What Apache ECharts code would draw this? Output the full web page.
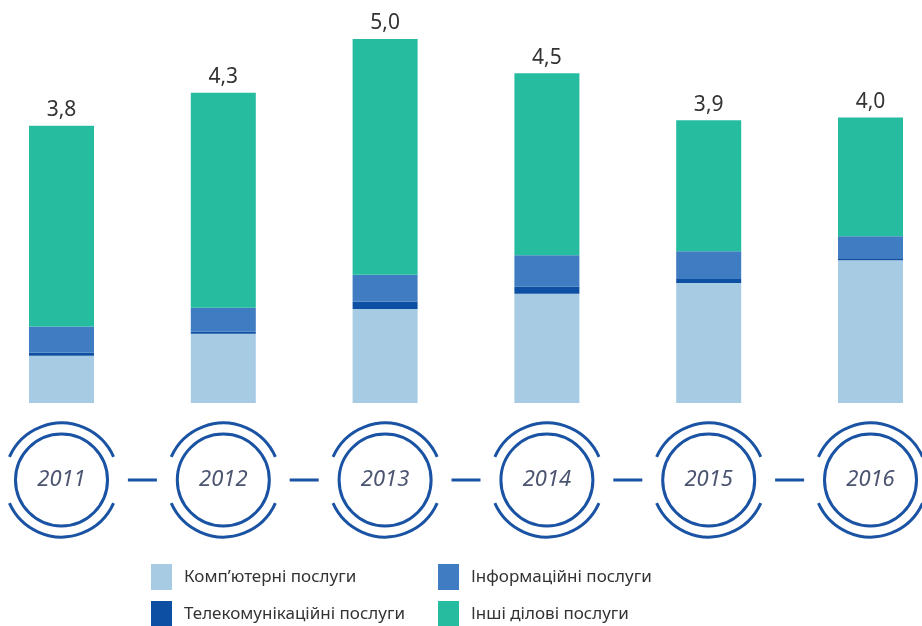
<!DOCTYPE html>
<html>
<head>
<meta charset="utf-8">
<script src="https://cdn.jsdelivr.net/npm/echarts@6/dist/echarts.min.js"></script>
<style>
  html, body { margin: 0; padding: 0; background: #fff; }
  #main { width: 922px; height: 626px; }
</style>
</head>
<body>
<div id="main"></div>
<script>
var years = ['2011', '2012', '2013', '2014', '2015', '2016'];
var totals = [3.8, 4.3, 5.0, 4.5, 3.9, 4.0];
// складові, оцінено з рисунка
var computer = [0.65, 0.95, 1.29, 1.50, 1.65, 1.96];
var telecom = [0.04, 0.03, 0.10, 0.10, 0.055, 0.03];
var info = [0.36, 0.33, 0.37, 0.43, 0.38, 0.30];
var other = [2.76, 2.95, 3.24, 2.50, 1.80, 1.63];

var names = ['Комп’ютерні послуги', 'Телекомунікаційні послуги', 'Інформаційні послуги', 'Інші ділові послуги'];
var colors = ['#a8cbe4', '#0d4fa3', '#3f7cc1', '#25bca0'];
var ring = '#1a53a3';

var myChart = echarts.init(document.getElementById('main'));

function bar(i, data) {
    return {
        name: names[i],
        type: 'bar',
        stack: 'all',
        barWidth: 65,
        clip: false,
        itemStyle: { color: colors[i] },
        data: data
    };
}

var topBar = bar(3, other);
topBar.label = {
    show: true,
    position: 'top',
    distance: 5,
    fontSize: 21,
    color: '#333',
    fontFamily: 'Noto Sans',
    formatter: function (p) { return totals[p.dataIndex].toFixed(1).replace('.', ','); }
};

// по одному елементу легенди на позицію
function legendItem(i, left, top) {
    return {
        data: [names[i]],
        left: left, top: top,
        itemWidth: 21, itemHeight: 26,
        icon: 'rect',
        textStyle: { fontSize: 17, color: '#333', fontFamily: 'Noto Sans', padding: [0, 0, 0, 7] }
    };
}

myChart.setOption({
    animation: false,
    grid: { left: 61.5, right: 51.5, top: 2.6, bottom: 223 },
    xAxis: { type: 'category', data: years, boundaryGap: false, show: false },
    yAxis: { type: 'value', min: 0, max: 5.5, show: false },
    legend: [
        legendItem(0, 146, 559),
        legendItem(1, 146, 596),
        legendItem(2, 433, 559),
        legendItem(3, 433, 596)
    ],
    series: [
        bar(0, computer),
        bar(1, telecom),
        bar(2, info),
        topBar,
        {
            type: 'custom',
            clip: false,
            silent: true,
            data: years.map(function (y, i) { return [i, 0]; }),
            encode: { x: 0, y: 1 },
            renderItem: function (params, api) {
                var i = api.value(0);
                var p = api.coord([i, 0]);
                var cx = p[0], cy = p[1] + 77;
                var d = Math.PI / 180;
                var kids = [
                    { type: 'circle', shape: { cx: cx, cy: cy, r: 46 },
                      style: { fill: 'none', stroke: ring, lineWidth: 3 } },
                    { type: 'arc', shape: { cx: cx, cy: cy, r: 57, startAngle: -156 * d, endAngle: -24 * d, clockwise: true },
                      style: { fill: 'none', stroke: ring, lineWidth: 3 } },
                    { type: 'arc', shape: { cx: cx, cy: cy, r: 57, startAngle: 24 * d, endAngle: 156 * d, clockwise: true },
                      style: { fill: 'none', stroke: ring, lineWidth: 3 } },
                    { type: 'text', style: { x: cx, y: cy, text: years[i], align: 'center', verticalAlign: 'middle',
                      fontSize: 22, fontStyle: 'italic', fontFamily: 'Noto Sans', fill: '#4b5470' } }
                ];
                if (i < years.length - 1) {
                    var n = api.coord([i + 1, 0]);
                    var mx = (cx + n[0]) / 2;
                    kids.push({ type: 'line', shape: { x1: mx - 14.5, y1: cy, x2: mx + 14.5, y2: cy },
                        style: { stroke: ring, lineWidth: 3 } });
                }
                return { type: 'group', children: kids };
            }
        }
    ]
});
</script>
</body>
</html>
